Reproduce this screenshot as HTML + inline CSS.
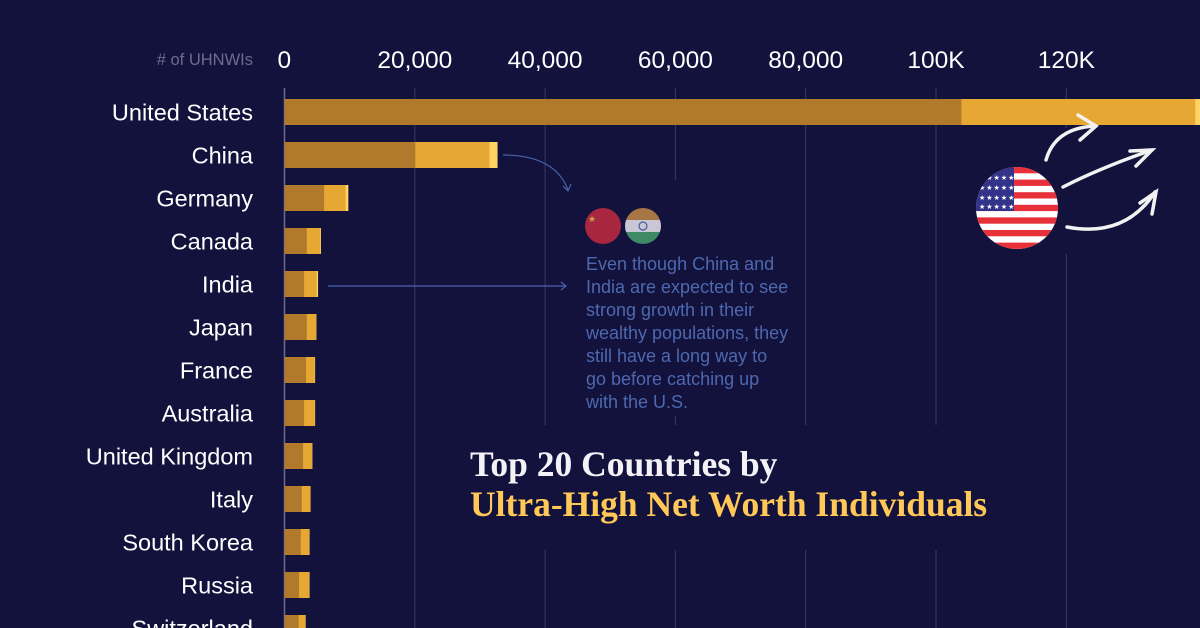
<!DOCTYPE html>
<html><head><meta charset="utf-8"><style>
html,body{margin:0;padding:0;background:#13123d;}
body{width:1200px;height:628px;overflow:hidden;position:relative;font-family:"Liberation Sans",sans-serif;}
</style></head><body>
<svg id="chart" width="1200" height="628" viewBox="0 0 1200 628" xmlns="http://www.w3.org/2000/svg" style="position:absolute;left:0;top:0">
<defs>
<clipPath id="flagclip"><circle cx="1017" cy="208" r="41"/></clipPath>
<clipPath id="cnclip"><circle cx="603" cy="226" r="18"/></clipPath>
<clipPath id="inclip"><circle cx="643" cy="226" r="18"/></clipPath>
</defs>
<g id="grid"></g>
<g id="ticks"></g>
<g id="bars"></g>
<g id="labels"></g>
</svg>
<script>
const countries=["United States","China","Germany","Canada","India","Japan","France","Australia","United Kingdom","Italy","South Korea","Russia","Switzerland"];
const current=[103900,20080,6080,3420,3000,3420,3310,3000,2850,2650,2490,2230,2180];
const forecast=[139800,31460,9390,5500,4950,4850,4650,4650,4230,3950,3800,3800,3200];
const capEnd=[141500,32700,9800,5600,5150,4900,4700,4700,4280,4000,3850,3850,3250];
const tickValues=[0,20000,40000,60000,80000,100000,120000];
const tickLabels=["0","20,000","40,000","60,000","80,000","100K","120K"];

const NS="http://www.w3.org/2000/svg";
const x0=284.5, pxPer=130.3/20000;
function xs(v){return x0+v*pxPer;}
function ys(i){return 112+43*i;}
function mk(tag,attrs,parent){const e=document.createElementNS(NS,tag);for(const k in attrs)e.setAttribute(k,attrs[k]);parent.appendChild(e);return e;}
const grid=document.getElementById('grid'),ticks=document.getElementById('ticks'),bars=document.getElementById('bars'),labels=document.getElementById('labels');

tickValues.forEach((v,i)=>{
  if(v>0){
    const g=mk('line',{x1:xs(v),x2:xs(v),y1:88,y2:628,stroke:'#3a3960','stroke-width':1},grid);
    
    
  }
  const t=mk('text',{x:xs(v),y:68,fill:'#ffffff','font-size':24.5,'text-anchor':v===0?'start':'middle','font-family':'Liberation Sans, sans-serif'},ticks);
  if(v===0)t.setAttribute('x',x0-7);
  t.textContent=tickLabels[i];
  
  
});
const axl=mk('text',{x:253,y:65,fill:'#6e6b8c','font-size':16.5,'text-anchor':'end'},ticks);
axl.textContent="# of UHNWIs";


const zl=mk('line',{x1:x0,x2:x0,y1:88,y2:628,stroke:'#6e6b8c','stroke-width':1.5},grid);



countries.forEach((c,i)=>{
  const y=ys(i)-13;
  const r3=mk('rect',{x:x0,y:y,width:xs(capEnd[i])-x0,height:26,fill:'#ffd465'},bars);
  
  
  const r2=mk('rect',{x:x0,y:y,width:xs(forecast[i])-x0,height:26,fill:'#e6a733'},bars);
  
  
  const r1=mk('rect',{x:x0,y:y,width:xs(current[i])-x0,height:26,fill:'#b0792c'},bars);
  
  
  const t=mk('text',{x:253,y:ys(i)+8.5,fill:'#ffffff','font-size':23.5,'text-anchor':'end'},labels);
  t.textContent=c;
  
  
});

const ob1=mk('rect',{x:570,y:180,width:235,height:236,fill:'#13123d'},grid);


const ob2=mk('rect',{x:465,y:425,width:555,height:125,fill:'#13123d'},grid);


const ob3=mk('rect',{x:970,y:128,width:200,height:126,fill:'#13123d'},grid);


</script>
<svg width="1200" height="628" style="position:absolute;left:0;top:0;pointer-events:none">
  <path d="M503 155 Q555 155 568 190" fill="none" stroke="#4a62a8" stroke-width="1.2"/>
  <path d="M563 186 L568 191 L571 184" fill="none" stroke="#4a62a8" stroke-width="1.2"/>
  <line x1="328" y1="286" x2="566" y2="286" stroke="#4a62a8" stroke-width="1.2"/>
  <path d="M561 282 L566 286 L561 290" fill="none" stroke="#4a62a8" stroke-width="1.2"/>
  <g clip-path="url(#cnclip)">
    <rect x="585" y="208" width="36" height="36" fill="#a8263f"/>
    <text x="588" y="222" font-size="9" fill="#c9a544">★</text>
  </g>
  <g clip-path="url(#inclip)">
    <rect x="625" y="208" width="36" height="12" fill="#a87545"/>
    <rect x="625" y="220" width="36" height="12" fill="#c9c7d6"/>
    <rect x="625" y="232" width="36" height="12" fill="#3e8a64"/>
    <circle cx="643" cy="226" r="4" fill="none" stroke="#4a5aa0" stroke-width="1.2"/>
  </g>
  <g clip-path="url(#flagclip)">
    <rect x="976" y="167" width="82" height="82" fill="#ffffff"/>
    <g fill="#e8303a">
      <rect x="976" y="167" width="82" height="6.3"/><rect x="976" y="179.6" width="82" height="6.3"/>
      <rect x="976" y="192.2" width="82" height="6.3"/><rect x="976" y="204.8" width="82" height="6.3"/>
      <rect x="976" y="217.4" width="82" height="6.3"/><rect x="976" y="230" width="82" height="6.3"/>
      <rect x="976" y="242.6" width="82" height="6.3"/>
    </g>
    <rect x="976" y="167" width="38" height="44" fill="#33338a"/>
    <text x="979" y="180" font-size="7" fill="#fff" letter-spacing="1">★★★★★</text>
    <text x="979" y="190" font-size="7" fill="#fff" letter-spacing="1">★★★★★</text>
    <text x="979" y="200" font-size="7" fill="#fff" letter-spacing="1">★★★★★</text>
    <text x="979" y="209" font-size="7" fill="#fff" letter-spacing="1">★★★★★</text>
  </g>
  <g fill="none" stroke="#f2f2f2" stroke-width="3.5" stroke-linecap="round">
    <path d="M1046 160 Q1055 128 1095 126"/><path d="M1078 115 L1096 126 L1080 140"/>
    <path d="M1063 187 Q1100 168 1152 150"/><path d="M1130 151 L1152 150 L1136 166"/>
    <path d="M1067 227 Q1125 238 1155 192"/><path d="M1140 203 L1156 192 L1152 214"/>
  </g>
</svg>
<div style="position:absolute;left:586px;top:253px;width:204px;font-size:18px;line-height:23px;color:#4d68ae;">Even though China and India are expected to see strong growth in their wealthy populations, they still have a long way to go before catching up with the U.S.</div>
<div style="position:absolute;left:470px;top:444px;font-family:'Liberation Serif',serif;font-weight:bold;font-size:35.5px;line-height:40px;">
  <div style="color:#f4f2f6">Top 20 Countries by</div>
  <div style="color:#ffc857">Ultra-High Net Worth Individuals</div>
</div>
</body></html>
